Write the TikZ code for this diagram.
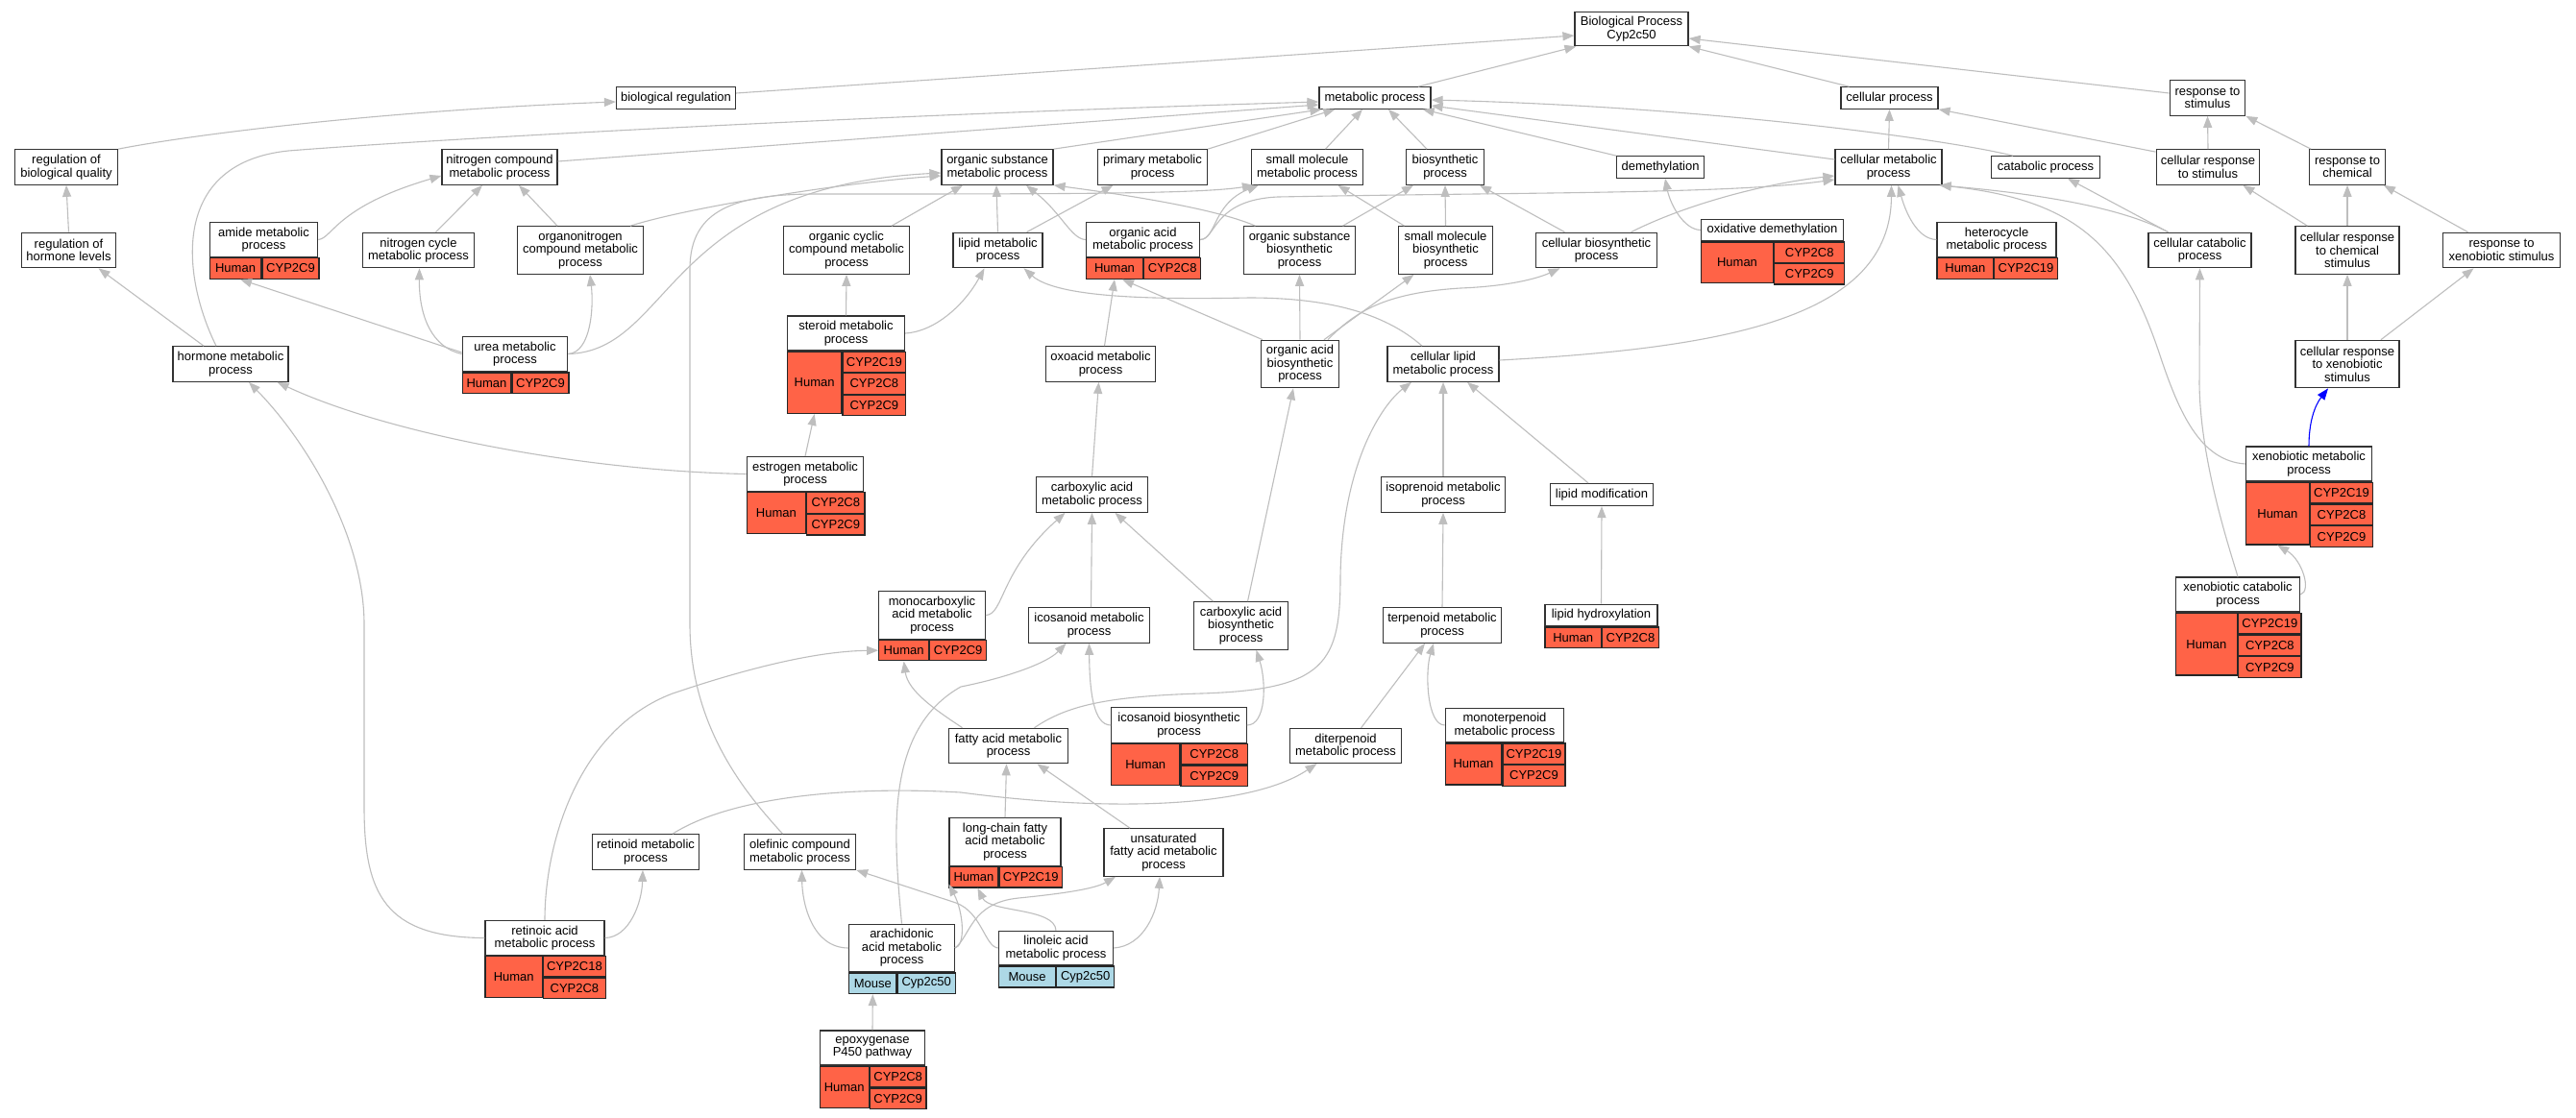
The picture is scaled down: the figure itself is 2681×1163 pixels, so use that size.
\documentclass[tikz,border=0pt]{standalone}
\usepackage{fontspec}
\setmainfont{Liberation Sans}
\usetikzlibrary{arrows.meta}
\definecolor{hsacell}{HTML}{FF6347}
\definecolor{mmucell}{HTML}{ADD8E6}
\definecolor{isagray}{HTML}{BEBEBE}

\begin{document}
\begin{tikzpicture}[x=1pt,y=-1pt,
  sz/.style 2 args={minimum width=#1, minimum height=#2},
  term/.style={draw=black!80, line width=1.2pt, fill=white, align=center, inner sep=1pt,
    font=\fontsize{13pt}{13.6pt}\selectfont},
  hsa/.style={draw=black!85, line width=1.2pt, fill=hsacell, inner sep=0pt, anchor=north west,
    font=\fontsize{13pt}{13.6pt}\selectfont},
  mmu/.style={hsa, fill=mmucell},
  isa/.style={draw=isagray, line width=1.1pt, -{Triangle[length=12pt,width=9pt]}},
  isaxeno/.style={isa, draw=blue}]
  % cadre
  \fill[white] (0,0) rectangle (2681,1163);
  \useasboundingbox (0,0) rectangle (2681,1163);

  % termes du haut
  \node[term,sz={118pt}{35.5pt}] (root) at (1698,30) {Biological Process\\Cyp2c50};
  \node[term,sz={124pt}{22.5pt}] (bioreg) at (703.5,102) {biological regulation};
  \node[term,sz={116pt}{22.5pt}] (metabolic) at (1431,102) {metabolic process};
  \node[term,sz={101pt}{22.5pt}] (cellproc) at (1966.5,102) {cellular process};
  \node[term,sz={78.5pt}{36.5pt}] (respstim) at (2297.5,102) {response to\\stimulus};
  \node[term,sz={107pt}{36.5pt}] (regqual) at (69,174) {regulation of\\biological quality};
  \node[term,sz={120pt}{36.5pt}] (nitrocomp) at (520,174) {nitrogen compound\\metabolic process};
  \node[term,sz={116pt}{36.5pt}] (orgsub) at (1038,174) {organic substance\\metabolic process};
  \node[term,sz={114pt}{36.5pt}] (primary) at (1199.5,174) {primary metabolic\\process};
  \node[term,sz={116pt}{36.5pt}] (smallmol) at (1360.5,174) {small molecule\\metabolic process};
  \node[term,sz={80.5pt}{36.5pt}] (biosyn) at (1504,174) {biosynthetic\\process};
  \node[term,sz={90.5pt}{22.5pt}] (demeth) at (1728,174) {demethylation};
  \node[term,sz={111pt}{36.5pt}] (cellmet) at (1965.5,174) {cellular metabolic\\process};
  \node[term,sz={112.5pt}{22.5pt}] (catab) at (2129,174) {catabolic process};
  \node[term,sz={107.5pt}{36.5pt}] (cellrespstim) at (2298,174) {cellular response\\to stimulus};
  \node[term,sz={78.5pt}{36.5pt}] (respchem) at (2443,174) {response to\\chemical};

  % deuxieme rang
  \node[term,sz={98.5pt}{36.5pt}] (reghorm) at (71.5,260.5) {regulation of\\hormone levels};
  \node[term,sz={116pt}{36.5pt}] (nitrocyc) at (435.5,260.5) {nitrogen cycle\\metabolic process};
  \node[term,sz={130.5pt}{49.5pt}] (organonit) at (604,260.5) {organonitrogen\\compound metabolic\\process};
  \node[term,sz={130.5pt}{49.5pt}] (orgcyc) at (881,260.5) {organic cyclic\\compound metabolic\\process};
  \node[term,sz={93pt}{36.5pt}] (lipid) at (1038.5,260.5) {lipid metabolic\\process};
  \node[term,sz={116pt}{49.5pt}] (orgsubbio) at (1352.5,260.5) {organic substance\\biosynthetic\\process};
  \node[term,sz={98pt}{49.5pt}] (smallmolbio) at (1504.5,260.5) {small molecule\\biosynthetic\\process};
  \node[term,sz={125.5pt}{36.5pt}] (cellbio) at (1661.5,260.5) {cellular biosynthetic\\process};
  \node[term,sz={107pt}{36.5pt}] (cellcatab) at (2289.5,260.5) {cellular catabolic\\process};
  \node[term,sz={108pt}{49.5pt}] (cellrespchem) at (2443,260.5) {cellular response\\to chemical\\stimulus};
  \node[term,sz={122.5pt}{36.5pt}] (respxeno) at (2603.5,260.5) {response to\\xenobiotic stimulus};

  \node[term,sz={112.5pt}{36pt}] (amide) at (274.5,249.5) {amide metabolic\\process};
  \node[hsa,sz={53.6pt}{21.6pt}] (amideH) at (amide.south west) {Human};
  \node[hsa,sz={58.9pt}{21.6pt}] (amideA) at (amideH.north east) {CYP2C9};
  \node[term,sz={118pt}{36pt}] (orgacid) at (1189.5,249.5) {organic acid\\metabolic process};
  \node[hsa,sz={59pt}{21.6pt}] (orgacidH) at (orgacid.south west) {Human};
  \node[hsa,sz={59pt}{21.6pt}] (orgacidA) at (orgacidH.north east) {CYP2C8};
  \node[term,sz={148pt}{22.5pt}] (oxdem) at (1844.5,239.5) {oxidative demethylation};
  \node[hsa,sz={75pt}{42.8pt}] (oxdemH) at (oxdem.south west) {Human};
  \node[hsa,sz={73pt}{21.4pt}] (oxdemA) at (oxdemH.north east) {CYP2C8};
  \node[hsa,sz={73pt}{21.4pt}] (oxdemB) at (oxdemA.south west) {CYP2C9};
  \node[term,sz={124pt}{36pt}] (hetero) at (2078,249.5) {heterocycle\\metabolic process};
  \node[hsa,sz={58.6pt}{21.6pt}] (heteroH) at (hetero.south west) {Human};
  \node[hsa,sz={65.4pt}{21.6pt}] (heteroA) at (heteroH.north east) {CYP2C19};

  % troisieme rang
  \node[term,sz={120pt}{36.5pt}] (hormone) at (240,379) {hormone metabolic\\process};
  \node[term,sz={114.5pt}{36.5pt}] (oxoacid) at (1145.5,379) {oxoacid metabolic\\process};
  \node[term,sz={80.5pt}{49.5pt}] (orgacidbio) at (1353,379) {organic acid\\biosynthetic\\process};
  \node[term,sz={116pt}{36.5pt}] (celllipid) at (1502,379) {cellular lipid\\metabolic process};
  \node[term,sz={108pt}{49.5pt}] (cellrespxeno) at (2443,379) {cellular response\\to xenobiotic\\stimulus};

  \node[term,sz={109.5pt}{36.5pt}] (urea) at (536,368.5) {urea metabolic\\process};
  \node[hsa,sz={50.5pt}{21.4pt}] (ureaH) at (urea.south west) {Human};
  \node[hsa,sz={59pt}{21.4pt}] (ureaA) at (ureaH.north east) {CYP2C9};
  \node[term,sz={122pt}{36pt}] (steroid) at (880.5,347) {steroid metabolic\\process};
  \node[hsa,sz={56.3pt}{64.2pt}] (steroidH) at (steroid.south west) {Human};
  \node[hsa,sz={65.7pt}{21.4pt}] (steroidA) at (steroidH.north east) {CYP2C19};
  \node[hsa,sz={65.7pt}{21.4pt}] (steroidB) at (steroidA.south west) {CYP2C8};
  \node[hsa,sz={65.7pt}{21.4pt}] (steroidC) at (steroidB.south west) {CYP2C9};

  % quatrieme rang
  \node[term,sz={116pt}{36.5pt}] (carbox) at (1136.5,515) {carboxylic acid\\metabolic process};
  \node[term,sz={129.5pt}{36.5pt}] (isopren) at (1502,515) {isoprenoid metabolic\\process};
  \node[term,sz={106.5pt}{23pt}] (lipidmod) at (1667,515) {lipid modification};

  \node[term,sz={121.5pt}{36pt}] (estrogen) at (838,493.5) {estrogen metabolic\\process};
  \node[hsa,sz={61.2pt}{43pt}] (estrogenH) at (estrogen.south west) {Human};
  \node[hsa,sz={60.3pt}{21.5pt}] (estrogenA) at (estrogenH.north east) {CYP2C8};
  \node[hsa,sz={60.3pt}{21.5pt}] (estrogenB) at (estrogenA.south west) {CYP2C9};
  \node[term,sz={131pt}{36pt}] (xenomet) at (2403,483) {xenobiotic metabolic\\process};
  \node[hsa,sz={65.6pt}{64.8pt}] (xenometH) at (xenomet.south west) {Human};
  \node[hsa,sz={65.4pt}{21.6pt}] (xenometA) at (xenometH.north east) {CYP2C19};
  \node[hsa,sz={65.4pt}{21.6pt}] (xenometB) at (xenometA.south west) {CYP2C8};
  \node[hsa,sz={65.4pt}{21.6pt}] (xenometC) at (xenometB.south west) {CYP2C9};

  % cinquieme rang
  \node[term,sz={125.5pt}{36.5pt}] (icosan) at (1133.5,651) {icosanoid metabolic\\process};
  \node[term,sz={97.5pt}{49.5pt}] (carbbio) at (1291.5,651.5) {carboxylic acid\\biosynthetic\\process};
  \node[term,sz={123pt}{36.5pt}] (terpen) at (1501,651) {terpenoid metabolic\\process};

  \node[term,sz={110.5pt}{49.5pt}] (monocarb) at (970,640.5) {monocarboxylic\\acid metabolic\\process};
  \node[hsa,sz={51.8pt}{21.4pt}] (monocarbH) at (monocarb.south west) {Human};
  \node[hsa,sz={58.7pt}{21.4pt}] (monocarbA) at (monocarbH.north east) {CYP2C9};
  \node[term,sz={117pt}{22.5pt}] (lipidhyd) at (1666.5,640.5) {lipid hydroxylation};
  \node[hsa,sz={58.5pt}{21.6pt}] (lipidhydH) at (lipidhyd.south west) {Human};
  \node[hsa,sz={58.5pt}{21.6pt}] (lipidhydA) at (lipidhydH.north east) {CYP2C8};
  \node[term,sz={129.5pt}{36pt}] (xenocat) at (2329,619) {xenobiotic catabolic\\process};
  \node[hsa,sz={64.3pt}{64.8pt}] (xenocatH) at (xenocat.south west) {Human};
  \node[hsa,sz={65.2pt}{21.6pt}] (xenocatA) at (xenocatH.north east) {CYP2C19};
  \node[hsa,sz={65.2pt}{21.6pt}] (xenocatB) at (xenocatA.south west) {CYP2C8};
  \node[hsa,sz={65.2pt}{21.6pt}] (xenocatC) at (xenocatB.south west) {CYP2C9};

  % sixieme rang
  \node[term,sz={124pt}{36.5pt}] (fatty) at (1049.5,776.5) {fatty acid metabolic\\process};
  \node[term,sz={116pt}{36pt}] (diterp) at (1400.5,776.5) {diterpenoid\\metabolic process};

  \node[term,sz={140.5pt}{36.5pt}] (icosbio) at (1227,755) {icosanoid biosynthetic\\process};
  \node[hsa,sz={71pt}{42.8pt}] (icosbioH) at (icosbio.south west) {Human};
  \node[hsa,sz={69.5pt}{21.4pt}] (icosbioA) at (icosbioH.north east) {CYP2C8};
  \node[hsa,sz={69.5pt}{21.4pt}] (icosbioB) at (icosbioA.south west) {CYP2C9};
  \node[term,sz={123.5pt}{35.5pt}] (monoterp) at (1566,755) {monoterpenoid\\metabolic process};
  \node[hsa,sz={58.5pt}{43pt}] (monoterpH) at (monoterp.south west) {Human};
  \node[hsa,sz={65pt}{21.5pt}] (monoterpA) at (monoterpH.north east) {CYP2C19};
  \node[hsa,sz={65pt}{21.5pt}] (monoterpB) at (monoterpA.south west) {CYP2C9};

  % septieme rang
  \node[term,sz={111.5pt}{36.5pt}] (retinoid) at (672,887) {retinoid metabolic\\process};
  \node[term,sz={116pt}{36.5pt}] (olefin) at (832.5,887) {olefinic compound\\metabolic process};
  \node[term,sz={124pt}{49.5pt}] (unsat) at (1211,887.5) {unsaturated\\fatty acid metabolic\\process};

  \node[term,sz={116pt}{49.5pt}] (longchain) at (1046,876.5) {long-chain fatty\\acid metabolic\\process};
  \node[hsa,sz={50.9pt}{21.6pt}] (longchainH) at (longchain.south west) {Human};
  \node[hsa,sz={65.1pt}{21.6pt}] (longchainA) at (longchainH.north east) {CYP2C19};

  % rangs du bas
  \node[term,sz={124pt}{36pt}] (retinoic) at (567,976.5) {retinoic acid\\metabolic process};
  \node[hsa,sz={59.4pt}{42.4pt}] (retinoicH) at (retinoic.south west) {Human};
  \node[hsa,sz={64.6pt}{21.2pt}] (retinoicA) at (retinoicH.north east) {CYP2C18};
  \node[hsa,sz={64.6pt}{21.2pt}] (retinoicB) at (retinoicA.south west) {CYP2C8};
  \node[term,sz={109.5pt}{49.5pt}] (arachid) at (938.5,987) {arachidonic\\acid metabolic\\process};
  \node[mmu,sz={49.1pt}{21.6pt}] (arachidH) at (arachid.south west) {Mouse};
  \node[mmu,sz={60.4pt}{21.6pt}] (arachidA) at (arachidH.north east) {Cyp2c50};
  \node[term,sz={119pt}{35.5pt}] (linoleic) at (1099,987) {linoleic acid\\metabolic process};
  \node[mmu,sz={59pt}{22pt}] (linoleicH) at (linoleic.south west) {Mouse};
  \node[mmu,sz={60pt}{22pt}] (linoleicA) at (linoleicH.north east) {Cyp2c50};
  \node[term,sz={109.5pt}{36pt}] (epoxy) at (908,1091) {epoxygenase\\P450 pathway};
  \node[hsa,sz={50.9pt}{43pt}] (epoxyH) at (epoxy.south west) {Human};
  \node[hsa,sz={58.6pt}{21.5pt}] (epoxyA) at (epoxyH.north east) {CYP2C8};
  \node[hsa,sz={58.6pt}{21.5pt}] (epoxyB) at (epoxyA.south west) {CYP2C9};

  % relations vers la racine
  \draw[isa] ([yshift=5pt]bioreg.east) -- ([yshift=-7pt]root.west);
  \draw[isa] ([xshift=45pt]metabolic.north) -- ([xshift=2pt]root.south west);
  \draw[isa] ([xshift=-42pt]cellproc.north) -- (root.south east);
  \draw[isa] ([yshift=5pt]respstim.west) -- ([yshift=-10pt]root.east);
  % regulation
  \draw[isa] (regqual.north east) .. controls (200,140) and (400,115) .. ([yshift=-4pt]bioreg.west);
  \draw[isa] (reghorm.north) -- (regqual.south);
  \draw[isa] ([xshift=-28pt]hormone.north) -- ([xshift=31pt]reghorm.south);
  % metabolic process
  \draw[isa] ([xshift=-15pt]hormone.north) .. controls (190,290) and (175,170) .. (300,157)
    .. controls (450,145) and (900,120) .. ([yshift=-4pt]metabolic.west);
  \draw[isa] ([yshift=6pt]nitrocomp.east) -- ([yshift=-7pt]metabolic.west);
  \draw[isa] (orgsub.north east) -- ([xshift=3pt]metabolic.south west);
  \draw[isa] (primary.north east) -- ([xshift=17pt]metabolic.south west);
  \draw[isa] ([xshift=19pt]smallmol.north) -- ([xshift=-13pt]metabolic.south);
  \draw[isa] ([xshift=-19pt]biosyn.north) -- ([xshift=14pt]metabolic.south);
  \draw[isa] (demeth.north west) -- ([xshift=-9pt]metabolic.south east);
  \draw[isa] ([yshift=8pt]cellmet.west) -- ([yshift=-8pt]metabolic.east);
  \draw[isa] ([xshift=-34pt]catab.north) .. controls (2040,148) and (1800,112) .. ([yshift=-2pt]metabolic.east);
  % cellular process, stimulus
  \draw[isa] (cellmet.north) -- (cellproc.south);
  \draw[isa] ([yshift=-3pt]cellrespstim.north west) -- (cellproc.south east);
  \draw[isa] (cellrespstim.north) -- (respstim.south);
  \draw[isa] ([xshift=2pt]respchem.north west) -- (respstim.south east);
  \draw[isa] ([xshift=13pt]cellrespchem.north west) -- ([xshift=-18pt]cellrespstim.south east);
  \draw[isa] (cellrespchem.north) -- (respchem.south);
  \draw[isa] ([xshift=-35pt]respxeno.north) -- ([xshift=-2pt]respchem.south east);
  \draw[isa] (cellrespxeno.north) -- (cellrespchem.south);
  \draw[isa] ([xshift=35pt]cellrespxeno.north) -- ([xshift=-29pt]respxeno.south);
  \draw[isaxeno] (xenomet.north) .. controls (2403,430) and (2414,416) .. ([xshift=-20pt]cellrespxeno.south);
  % catabolisme
  \draw[isa] (xenocat.east) .. controls (2406,615) and (2396,583) .. (xenometH.south);
  \draw[isa] (xenocat.north) .. controls (2320,570) and (2290,480) .. (2289,400) -- (cellcatab.south);
  \draw[isa] ([xshift=-33pt]cellcatab.north) -- ([xshift=23pt]catab.south);
  \draw[isa] ([xshift=-33pt]cellcatab.north) .. controls (2200,212) and (2100,200) .. ([xshift=-3pt]cellmet.south east);
  \draw[isa] (xenomet.west) .. controls (2290,480) and (2268,430) .. (2248,370)
    .. controls (2210,255) and (2160,208) .. ([xshift=-3pt]cellmet.south east);
  % cellular metabolic process
  \draw[isa] (hetero.west) .. controls (1995,249) and (1983,220) .. ([xshift=10pt]cellmet.south);
  \draw[isa] ([yshift=4pt]celllipid.east) .. controls (1800,362) and (1968,330) .. ([xshift=3pt]cellmet.south);
  \draw[isa] ([xshift=36pt]cellbio.north) .. controls (1750,215) and (1830,192) .. ([yshift=-9pt]cellmet.west);
  \draw[isa] (orgacid.east) .. controls (1266,249) and (1262,208) .. (1330,205)
    .. controls (1600,200) and (1800,202) .. ([yshift=-13pt]cellmet.west);
  \draw[isa] (orgacid.east) .. controls (1266,249) and (1262,212) .. ([xshift=8pt]smallmol.south west);
  \draw[isa] (oxdem.west) .. controls (1752,239) and (1738,212) .. ([xshift=5pt]demeth.south);
  % azote
  \draw[isa] (amide.east) .. controls (346,248) and (350,215) .. ([yshift=-9pt]nitrocomp.west);
  \draw[isa] ([xshift=18pt]nitrocyc.north) -- ([xshift=-18pt]nitrocomp.south);
  \draw[isa] ([xshift=-24pt]organonit.north) -- ([xshift=20pt]nitrocomp.south);
  \draw[isa] ([xshift=52pt]organonit.north) .. controls (720,215) and (880,190) .. ([yshift=-9pt]orgsub.west);
  \draw[isa] ([yshift=1.5pt]urea.west) -- ([xshift=5pt]amideH.south);
  \draw[isa] (urea.west) .. controls (450,362) and (436,330) .. ([xshift=1pt]nitrocyc.south);
  \draw[isa] (urea.east) .. controls (615,367) and (618,320) .. ([xshift=10pt]organonit.south);
  \draw[isa] (urea.east) .. controls (700,365) and (690,195) .. ([yshift=-6pt]orgsub.west);
  % organic substance, small molecule
  \draw[isa] ([xshift=-18pt]olefin.north) .. controls (780,830) and (718,760) .. (718,650) -- (718,280)
    .. controls (718,218) and (765,202) .. (850,202) .. controls (1100,202) and (1250,202) .. ([xshift=3pt]smallmol.south west);
  \draw[isa] (orgacid.west) .. controls (1115,249) and (1105,222) .. ([xshift=30pt]orgsub.south);
  \draw[isa] (lipid.north) -- ([xshift=-1pt]orgsub.south);
  \draw[isa] ([xshift=30pt]lipid.north) -- ([xshift=-41pt]primary.south);
  \draw[isa] ([xshift=47pt]orgcyc.north) -- ([xshift=-36pt]orgsub.south);
  \draw[isa] ([xshift=-46pt]orgsubbio.north) .. controls (1260,215) and (1150,200) .. (orgsub.south east);
  \draw[isa] ([xshift=45pt]orgsubbio.north) -- ([xshift=-33pt]biosyn.south);
  \draw[isa] ([xshift=-43pt]smallmolbio.north) -- ([xshift=32pt]smallmol.south);
  \draw[isa] (smallmolbio.north) -- (biosyn.south);
  \draw[isa] ([xshift=-33pt]cellbio.north) -- ([xshift=36pt]biosyn.south);
  % lipides, steroides
  \draw[isa] (steroid.north) -- (orgcyc.south);
  \draw[isa] (steroid.east) .. controls (975,345) and (1005,315) .. ([xshift=-14pt]lipid.south);
  \draw[isa] (estrogen.north) -- (steroidH.south);
  \draw[isa] (estrogen.west) .. controls (600,490) and (400,450) .. ([xshift=-12pt]hormone.south east);
  \draw[isa] (retinoic.west) .. controls (400,976) and (379,930) .. (379,840) -- (379,650)
    .. controls (379,560) and (320,460) .. ([xshift=19pt]hormone.south);
  \draw[isa] (retinoic.east) .. controls (655,976) and (668,940) .. ([xshift=-3pt]retinoid.south);
  \draw[isa] (retinoic.north) .. controls (567,880) and (600,760) .. (700,722)
    .. controls (780,695) and (850,678) .. (monocarbH.west);
  \draw[isa] ([xshift=28pt]retinoid.north) .. controls (760,830) and (880,818) .. (1000,825)
    .. controls (1150,845) and (1300,842) .. ([xshift=-30pt]diterp.south);
  % acides
  \draw[isa] ([xshift=4pt]oxoacid.north) -- (orgacidH.south);
  \draw[isa] (carbox.north) -- ([xshift=-2pt]oxoacid.south);
  \draw[isa] ([xshift=-39pt]orgacidbio.north) -- ([xshift=8pt]orgacidH.south);
  \draw[isa] (orgacidbio.north) -- (orgsubbio.south);
  \draw[isa] ([xshift=25pt]orgacidbio.north) -- ([xshift=-33pt]smallmolbio.south);
  \draw[isa] ([xshift=29pt]orgacidbio.north) .. controls (1410,325) and (1440,305) .. (1520,300)
    .. controls (1570,298) and (1600,290) .. ([xshift=-38pt]cellbio.south);
  \draw[isa] ([xshift=-22pt]celllipid.north) .. controls (1440,325) and (1380,310) .. (1300,310)
    .. controls (1200,312) and (1100,310) .. ([xshift=27pt]lipid.south);
  \draw[isa] ([xshift=27pt]fatty.north) .. controls (1110,735) and (1150,725) .. (1250,722)
    .. controls (1380,718) and (1395,690) .. (1395,600) .. controls (1397,480) and (1440,420) .. ([xshift=-33pt]celllipid.south);
  \draw[isa] (isopren.north) -- (celllipid.south);
  \draw[isa] ([xshift=-14pt]lipidmod.north) -- ([xshift=25pt]celllipid.south);
  \draw[isa] (terpen.north) -- (isopren.south);
  \draw[isa] (lipidhyd.north) -- (lipidmod.south);
  \draw[isa] ([xshift=16pt]diterp.north) -- ([xshift=-18pt]terpen.south);
  \draw[isa] (monoterp.west) .. controls (1485,755) and (1483,700) .. ([xshift=-9pt]terpen.south);
  \draw[isa] (monocarb.east) .. controls (1045,640) and (1040,595) .. ([xshift=-28pt]carbox.south);
  \draw[isa] ([xshift=2pt]icosan.north) -- (carbox.south);
  \draw[isa] ([xshift=-29pt]carbbio.north) -- ([xshift=24pt]carbox.south);
  \draw[isa] ([xshift=7pt]carbbio.north) -- ([xshift=-7pt]orgacidbio.south);
  \draw[isa] (icosbio.west) .. controls (1138,755) and (1134,720) .. (icosan.south);
  \draw[isa] (icosbio.east) .. controls (1318,755) and (1318,710) .. ([xshift=16pt]carbbio.south);
  % acides gras
  \draw[isa] ([xshift=-48pt]fatty.north) .. controls (975,740) and (945,720) .. (monocarbH.south);
  \draw[isa] (longchain.north) -- ([xshift=-2pt]fatty.south);
  \draw[isa] ([xshift=-35pt]unsat.north) -- ([xshift=30pt]fatty.south);
  \draw[isa] (arachid.north) .. controls (930,870) and (920,760) .. (1000,715)
    .. controls (1050,705) and (1090,690) .. ([xshift=-24pt]icosan.south);
  \draw[isa] (arachid.west) .. controls (845,987) and (835,940) .. ([xshift=2pt]olefin.south);
  \draw[isa] (arachid.east) .. controls (1005,985) and (1003,950) .. ([yshift=4pt]longchainH.south west);
  \draw[isa] (arachid.east) .. controls (1010,975) and (1010,940) .. (1060,935)
    .. controls (1110,930) and (1140,925) .. ([xshift=-50pt]unsat.south);
  \draw[isa] (linoleic.north) .. controls (1098,945) and (1030,950) .. ([xshift=4pt]longchainH.south);
  \draw[isa] (linoleic.east) .. controls (1190,985) and (1205,950) .. ([xshift=-4pt]unsat.south);
  \draw[isa] (linoleic.west) .. controls (1025,986) and (1022,950) .. (995,940) -- (olefin.south east);
  \draw[isa] (epoxy.north) -- (arachidH.south);
\end{tikzpicture}
\end{document}
